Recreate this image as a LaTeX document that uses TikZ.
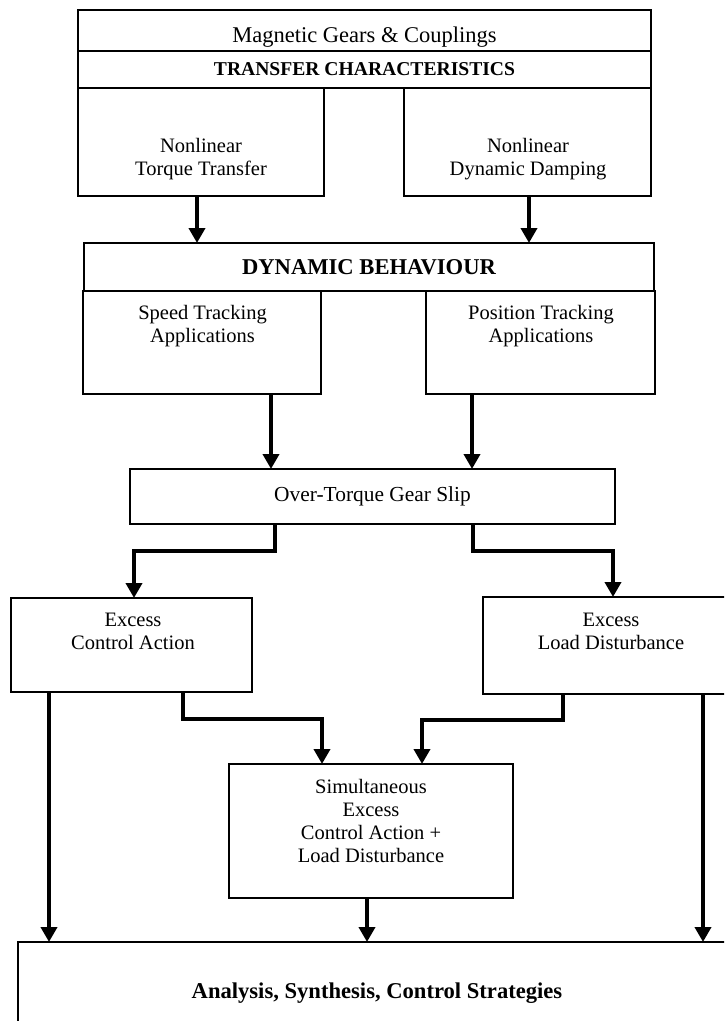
\documentclass[tikz,border=0pt]{standalone}
\usepackage{fontspec}
\setmainfont{Liberation Serif}
\usetikzlibrary{arrows.meta}
\tikzset{
  box/.style={draw, line width=1.5pt, rectangle, inner sep=0pt, outer sep=0pt},
  txt/.style={inner sep=0pt, align=center, anchor=base, font=\fontsize{20.5pt}{23pt}\selectfont},
  arr/.style={line width=4.5pt, -{Triangle[length=15pt,width=16pt]}},
}
\begin{document}
\begin{tikzpicture}[x=1pt,y=-1pt]
\useasboundingbox (0,0) rectangle (724,1021);
\fill[white] (0,0) rectangle (724,1021);
\clip (0,0) rectangle (724,1021);
% boxes
\node[box, minimum width=573pt, minimum height=41pt] (mg) at (364.5,30.5) {};
\node[box, minimum width=573pt, minimum height=37pt] (tc) at (364.5,69.5) {};
\node[box, minimum width=246pt, minimum height=108pt] (ntt) at (201,142) {};
\node[box, minimum width=247pt, minimum height=108pt] (ndd) at (527.5,142) {};
\node[box, minimum width=570pt, minimum height=48pt] (db) at (369,267) {};
\node[box, minimum width=238pt, minimum height=103pt] (spd) at (202,342.5) {};
\node[box, minimum width=229pt, minimum height=103pt] (pos) at (540.5,342.5) {};
\node[box, minimum width=485pt, minimum height=55pt] (ot) at (372.5,496.5) {};
\node[box, minimum width=241pt, minimum height=94pt] (eca) at (131.5,645) {};
\node[box, minimum width=256pt, minimum height=97pt] (eld) at (611,645.5) {};
\node[box, minimum width=284pt, minimum height=134pt] (sim) at (371,831) {};
\node[box, minimum width=718pt, minimum height=102pt] (ana) at (377,993) {};
% texts (base anchor = baseline of the last line)
\node[txt, font=\fontsize{22.5pt}{25pt}\selectfont] (tmg) at (364.5,42) {Magnetic Gears \& Couplings};
\node[txt, font=\bfseries\fontsize{19.6pt}{23pt}\selectfont] (ttc) at (364.5,75) {TRANSFER CHARACTERISTICS};
\node[txt] (tntt) at (201,175) {Nonlinear\\Torque Transfer};
\node[txt] (tndd) at (528,175) {Nonlinear\\Dynamic Damping};
\node[txt, font=\bfseries\fontsize{22.6pt}{25pt}\selectfont] (tdb) at (369,274) {DYNAMIC BEHAVIOUR};
\node[txt] (tspd) at (202.5,342) {Speed Tracking\\Applications};
\node[txt] (tpos) at (541,342) {Position Tracking\\Applications};
\node[txt, font=\fontsize{21.4pt}{24pt}\selectfont] (tot) at (372.5,501) {Over-Torque Gear Slip};
\node[txt] (teca) at (133,649) {Excess\\Control Action};
\node[txt] (teld) at (611,649) {Excess\\Load Disturbance};
\node[txt] (tsim) at (371,862) {Simultaneous\\Excess\\Control Action +\\Load Disturbance};
\node[txt, font=\bfseries\fontsize{22.6pt}{25pt}\selectfont] (tana) at (377,998) {Analysis, Synthesis, Control Strategies};
% connectors
\draw[arr] ([xshift=119pt]ntt.south west) coordinate (a1) -- (a1 |- db.north);
\draw[arr] ([xshift=125pt]ndd.south west) coordinate (a2) -- (a2 |- db.north);
\draw[arr] ([xshift=188pt]spd.south west) coordinate (a3) -- (a3 |- ot.north);
\draw[arr] ([xshift=46pt]pos.south west) coordinate (a4) -- (a4 |- ot.north);
\draw[arr] ([xshift=145pt]ot.south west) -- ++(0,27) -| ([xshift=123pt]eca.north west);
\draw[arr] ([xshift=343pt]ot.south west) -- ++(0,27) -| ([xshift=130pt]eld.north west);
\draw[arr] ([xshift=172pt]eca.south west) -- ++(0,27) -| ([xshift=93pt]sim.north west);
\draw[arr] ([xshift=80pt]eld.south west) -- ++(0,26) -| ([xshift=193pt]sim.north west);
\draw[arr] ([xshift=38pt]eca.south west) coordinate (a9) -- (a9 |- ana.north);
\draw[arr] ([xshift=220pt]eld.south west) coordinate (a10) -- (a10 |- ana.north);
\draw[arr] ([xshift=138pt]sim.south west) coordinate (a11) -- (a11 |- ana.north);
\end{tikzpicture}
\end{document}
